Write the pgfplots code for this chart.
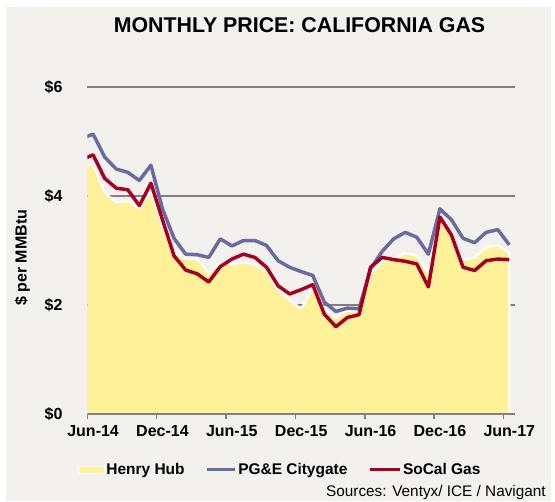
\documentclass[border=0pt]{standalone}
\usepackage{fontspec}
\setmainfont{Liberation Sans}
\usepackage{pgfplots}
\pgfplotsset{compat=1.18}
\definecolor{bg}{HTML}{F2F1EE}
\definecolor{hh}{HTML}{FFF199}
\definecolor{pge}{HTML}{6A6AA0}
\definecolor{socal}{HTML}{A50021}
\definecolor{gridc}{HTML}{808080}

\pgfplotstableread{
x y
-0.5 4.57
0.5 4.57
1.5 4.06
2.5 3.88
3.5 3.90
4.5 3.77
5.5 4.08
6.5 3.42
7.5 2.95
8.5 2.85
9.5 2.84
10.5 2.58
11.5 2.79
12.5 2.74
13.5 2.78
14.5 2.74
15.5 2.62
16.5 2.27
17.5 2.09
18.5 1.93
19.5 2.30
20.5 1.92
21.5 1.76
22.5 1.90
23.5 1.88
24.5 2.55
25.5 2.80
26.5 2.83
27.5 2.95
28.5 2.90
29.5 2.58
30.5 3.58
31.5 3.27
32.5 2.82
33.5 2.87
34.5 3.05
35.5 3.10
36.5 2.95
}\henryhub

\pgfplotstableread{
x y
-0.5 5.05
0.5 5.13
1.5 4.71
2.5 4.49
3.5 4.43
4.5 4.28
5.5 4.56
6.5 3.76
7.5 3.22
8.5 2.93
9.5 2.92
10.5 2.87
11.5 3.21
12.5 3.08
13.5 3.18
14.5 3.18
15.5 3.09
16.5 2.81
17.5 2.69
18.5 2.61
19.5 2.54
20.5 2.05
21.5 1.88
22.5 1.94
23.5 1.93
24.5 2.66
25.5 2.98
26.5 3.21
27.5 3.33
28.5 3.24
29.5 2.93
30.5 3.76
31.5 3.56
32.5 3.22
33.5 3.14
34.5 3.33
35.5 3.38
36.5 3.10
}\pge

\pgfplotstableread{
x y
-0.5 4.66
0.5 4.75
1.5 4.32
2.5 4.14
3.5 4.11
4.5 3.82
5.5 4.23
6.5 3.56
7.5 2.90
8.5 2.64
9.5 2.57
10.5 2.42
11.5 2.70
12.5 2.84
13.5 2.93
14.5 2.87
15.5 2.69
16.5 2.35
17.5 2.20
18.5 2.28
19.5 2.37
20.5 1.83
21.5 1.60
22.5 1.77
23.5 1.82
24.5 2.69
25.5 2.87
26.5 2.83
27.5 2.80
28.5 2.75
29.5 2.33
30.5 3.61
31.5 3.28
32.5 2.69
33.5 2.63
34.5 2.81
35.5 2.84
36.5 2.83
}\socal

\begin{document}
\begin{tikzpicture}
\fill[white] (0,0) rectangle (416.25pt,375.75pt);
\fill[bg] (4.5pt,0pt) rectangle (413.25pt,370.5pt);
\path[use as bounding box] (0,0) rectangle (416.25pt,375.75pt);
\begin{axis}[
  at={(65.5pt,65.25pt)}, anchor=south west,
  scale only axis, width=320.8pt, height=245.5pt,
  xmin=0, xmax=37, ymin=0, ymax=6,
  separate axis lines,
  axis x line*=bottom, axis y line*=left,
  x axis line style={gridc, line width=1.5pt},
  y axis line style={draw=none},
  xtick={0,6,12,18,24,30,36},
  xticklabels={Jun-14,Dec-14,Jun-15,Dec-15,Jun-16,Dec-16,Jun-17},
  ytick={0,2,4,6},
  yticklabels={\$0,\$2,\$4,\$6},
  ymajorgrids, grid style={gridc, line width=1.5pt},
  tick align=outside, major tick length=3.75pt,
  xtick style={gridc, line width=1.2pt},
  ytick style={draw=none},
  ticklabel style={font=\bfseries\fontsize{12}{14}\selectfont},
  yticklabel style={anchor=east, inner sep=0pt, xshift=-14.7pt},
  xticklabel style={anchor=north, inner sep=0pt, yshift=-4.5pt, xshift=4.33pt},
  title={MONTHLY PRICE: CALIFORNIA GAS},
  title style={at={(axis description cs:0.496,1.165)}, anchor=center, font=\bfseries\fontsize{16}{19}\selectfont},
  ylabel={\$ per MMBtu},
  ylabel style={at={(axis description cs:-0.152,0.477)}, anchor=center, font=\bfseries\fontsize{12}{14}\selectfont},
  legend columns=3,
  legend style={at={(axis description cs:-0.0217,-0.17)}, anchor=west, draw=none, fill=none, inner sep=0pt,
    font=\bfseries\fontsize{11.6}{14}\selectfont,
    nodes={inner xsep=0.3pt, inner ysep=1.5pt},
    /tikz/every odd column/.append style={column sep=0.5pt},
    /tikz/every even column/.append style={column sep=15.5pt}},
]
\addplot[fill=hh, draw=white, line width=1.5pt,
  legend image code/.code={\draw[fill=hh,draw=white,line width=0.8pt] (0pt,-2.6pt) rectangle (19.5pt,2.6pt);}]
  table[x=x,y=y] {\henryhub} \closedcycle;
\addlegendentry{Henry Hub}
\addplot[pge, line width=2.6pt, line join=round,
  legend image code/.code={\draw[pge,line width=2.6pt] (0pt,0pt) -- (21pt,0pt);}]
  table[x=x,y=y] {\pge};
\addlegendentry{PG\&E Citygate}
\addplot[socal, line width=2.6pt, line join=round,
  legend image code/.code={\draw[socal,line width=2.6pt] (0pt,0pt) -- (22.5pt,0pt);}]
  table[x=x,y=y] {\socal};
\addlegendentry{SoCal Gas}
\draw[gridc, line width=1.5pt] (axis cs:0,0) -- (axis cs:37,0);
\end{axis}
\node[anchor=east, font=\fontsize{11.5}{13}\selectfont, inner sep=0pt] at (409.5pt,6pt) {Sources: Ventyx/ ICE / Navigant};
\end{tikzpicture}
\end{document}
